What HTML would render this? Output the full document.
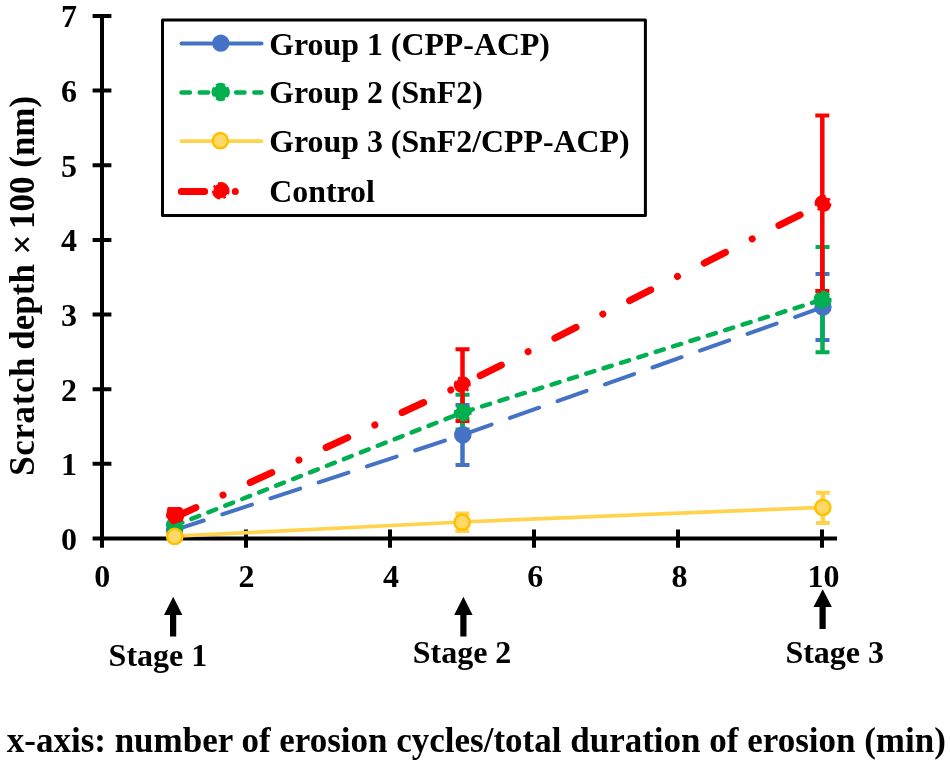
<!DOCTYPE html>
<html><head><meta charset="utf-8"><style>
html,body{margin:0;padding:0;background:#fff;}
svg{display:block;filter:blur(0.4px);}
text{font-family:"Liberation Serif",serif;font-weight:bold;fill:#000;}
</style></head><body>
<svg width="950" height="766" viewBox="0 0 950 766">
<rect width="950" height="766" fill="#fff"/>
<!-- y-axis title -->
<text transform="translate(34.2,475.8) rotate(-90)" font-size="35"><tspan x="0" letter-spacing="0.6">Scratch</tspan><tspan x="126.1">depth</tspan><tspan x="221.2">×</tspan><tspan x="246.8">100 (nm)</tspan></text>
<!-- y tick labels -->
<g font-size="32" text-anchor="end">
<text x="77.1" y="27.2">7</text>
<text x="77.1" y="101.9">6</text>
<text x="77.1" y="176.5">5</text>
<text x="77.1" y="251.2">4</text>
<text x="77.1" y="325.8">3</text>
<text x="77.1" y="400.5">2</text>
<text x="77.1" y="475.1">1</text>
<text x="77.1" y="549.8">0</text>
</g>
<!-- x tick labels -->
<g font-size="32" text-anchor="middle">
<text x="102.3" y="586.5">0</text>
<text x="246.6" y="586.5">2</text>
<text x="391" y="586.5">4</text>
<text x="535.3" y="586.5">6</text>
<text x="679.5" y="586.5">8</text>
<text x="823.4" y="586.5">10</text>
</g>
<!-- axes -->
<g stroke="#000" stroke-width="4" fill="none">
<line x1="102" y1="13.9" x2="102" y2="547.7"/>
<line x1="92.6" y1="538.5" x2="837" y2="538.5"/>
<path d="M92.6 15.9H111.4M92.6 90.6H111.4M92.6 165.2H111.4M92.6 239.9H111.4M92.6 314.5H111.4M92.6 389.2H111.4M92.6 463.8H111.4"/>
<path d="M246 529.4V547.7M390 529.4V547.7M534 529.4V547.7M678 529.4V547.7M822 529.4V547.7"/>
</g>
<!-- error bars -->
<g fill="none">
<path stroke="#4472C4" stroke-width="4.5" d="M462.5 405V465"/><path stroke="#4472C4" stroke-width="4" d="M455.5 405H469.5M455.5 465H469.5"/>
<path stroke="#4472C4" stroke-width="4.5" d="M822.5 274V340"/><path stroke="#4472C4" stroke-width="4" d="M815.5 274H829.5M815.5 340H829.5"/>
<path stroke="#00B050" stroke-width="4.5" d="M462.5 394.7V429.5"/><path stroke="#00B050" stroke-width="4" d="M455.5 394.7H469.5M455.5 429.5H469.5"/>
<path stroke="#00B050" stroke-width="4.5" d="M822.5 247V352.3"/><path stroke="#00B050" stroke-width="4" d="M815.5 247H829.5M815.5 352.3H829.5"/>
<path stroke="#FFD34E" stroke-width="4.5" d="M462.3 513.4V531"/><path stroke="#FFD34E" stroke-width="4" d="M455.3 513.4H469.3M455.3 531H469.3"/>
<path stroke="#FFD34E" stroke-width="4.5" d="M822.8 492.7V523.1"/><path stroke="#FFD34E" stroke-width="4" d="M815.8 492.7H829.8M815.8 523.1H829.8"/>
<path stroke="#FF0000" stroke-width="4.5" d="M462.5 349.2V421"/><path stroke="#FF0000" stroke-width="4" d="M455.5 349.2H469.5M455.5 421H469.5"/>
<path stroke="#FF0000" stroke-width="4.5" d="M822.3 115.5V291"/><path stroke="#FF0000" stroke-width="4" d="M815.3 115.5H829.3M815.3 291H829.3"/>
</g>
<!-- lines -->
<g fill="none" stroke-linecap="round" stroke-linejoin="round">
<path stroke="#4472C4" stroke-width="4" stroke-dasharray="31.3 19.5" stroke-dashoffset="0.5" d="M174.5 530.2L462.5 434.8"/>
<path stroke="#4472C4" stroke-width="4" stroke-dasharray="30.8 19.6" d="M462.5 434.8L822.8 307.2"/>
<path stroke="#00B050" stroke-width="4.5" stroke-dasharray="8.4 9.8" d="M174.5 525.6L462.5 412.5"/>
<path stroke="#00B050" stroke-width="4.5" stroke-dasharray="8.4 9.8" stroke-dashoffset="15.9" d="M462.5 412.5L822.5 299.6"/>
<polyline stroke="#FFD34E" stroke-width="3.75" points="174.7,536.2 462.2,522 822.8,507.3"/>
<path stroke="#FF0000" stroke-width="7" stroke-dasharray="23.7 29.95 0.01 29.95" d="M174.3 517.5L462.3 384.7"/>
<path stroke="#FF0000" stroke-width="7" stroke-dasharray="23.7 29.95 0.01 29.95" stroke-dashoffset="63.6" d="M462.3 384.7L822.8 203.4"/>
</g>
<!-- markers -->
<g fill="#4472C4"><circle cx="174.5" cy="530.2" r="8.6"/><circle cx="462.8" cy="434.9" r="8.8"/><circle cx="823" cy="307.2" r="8.6"/></g>
<g fill="#00B050" stroke="#00B050" stroke-width="3" stroke-dasharray="9 2.6"><circle cx="174.8" cy="526" r="7.6"/><circle cx="462.8" cy="412.5" r="7.5" transform="rotate(40 462.8 412.5)"/><circle cx="822.6" cy="299.6" r="7.5" transform="rotate(80 822.6 299.6)"/></g>
<g fill="#FFD966" stroke="#FFC000" stroke-width="2.5"><circle cx="174.7" cy="536.4" r="7.6"/><circle cx="462.2" cy="522.2" r="7.6"/><circle cx="822.8" cy="507.4" r="7.6"/></g>
<g fill="#FF0000" stroke="#FF0000" stroke-width="3" stroke-dasharray="11 3 2.5 3"><circle cx="462.3" cy="384.7" r="7" transform="rotate(120 462.3 384.7)"/><circle cx="823" cy="203.4" r="7" transform="rotate(200 823 203.4)"/></g>
<path d="M168 507.6L181 507.6L182.2 508.8L183.6 517L182.4 520.8L172.3 524.2L166.3 516.6Z" fill="#FF0000" stroke="#FF0000" stroke-width="1" stroke-linejoin="round"/>
<!-- legend -->
<rect x="162.5" y="20" width="482.9" height="195.4" fill="#fff" stroke="#000" stroke-width="3" stroke-linejoin="round"/>
<g fill="none" stroke-linecap="round">
<line x1="181.5" y1="43.6" x2="261.5" y2="43.6" stroke="#4472C4" stroke-width="4"/>
<line x1="181.5" y1="92.4" x2="261.5" y2="92.4" stroke="#00B050" stroke-width="4.5" stroke-dasharray="8.4 9.8"/>
<line x1="181.5" y1="141.2" x2="261.5" y2="141.2" stroke="#FFD34E" stroke-width="3.75"/>
<line x1="181.3" y1="191.6" x2="240" y2="191.6" stroke="#FF0000" stroke-width="7" stroke-dasharray="23.3 30.7 0.01 40"/>
</g>
<circle cx="220.8" cy="43.2" r="8.6" fill="#4472C4"/>
<circle cx="220.7" cy="92" r="7.6" fill="#00B050" stroke="#00B050" stroke-width="3" stroke-dasharray="9 2.6" transform="rotate(-30 220.7 92)"/>
<circle cx="220.3" cy="140.7" r="7.6" fill="#FFD966" stroke="#FFC000" stroke-width="2.5"/>
<circle cx="220.8" cy="190.8" r="7.3" fill="#FF0000" stroke="#FF0000" stroke-width="3" stroke-dasharray="11 3 2.5 3" transform="rotate(-60 220.8 190.8)"/>
<g font-size="31.85">
<text x="269.3" y="54.6">Group 1 (CPP-ACP)</text>
<text x="269.3" y="103.4">Group 2 (SnF2)</text>
<text x="269.3" y="152.2">Group 3 (SnF2/CPP-ACP)</text>
<text x="269.3" y="202">Control</text>
</g>
<!-- arrows -->
<g fill="#000">
<path d="M173.2 596.7L182.4 614.9H176.2V636.4H170V614.9H164Z"/>
<path d="M463.4 596.7L472.6 614.9H466.5V636.4H460.3V614.9H454.2Z"/>
<path d="M822.7 589.3L831.9 607.1H825.7V629H819.5V607.1H813.5Z"/>
</g>
<g font-size="32">
<text x="108.6" y="666">Stage 1</text>
<text x="412.7" y="662.6">Stage 2</text>
<text x="785.4" y="662.6">Stage 3</text>
</g>
<text x="6.76" y="751.9" font-size="35">x-axis: number of erosion cycles/total duration of erosion (min)</text>
</svg>
</body></html>
